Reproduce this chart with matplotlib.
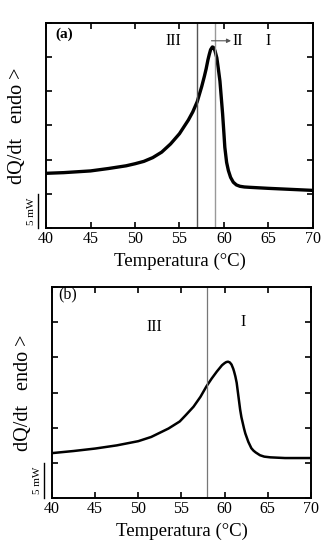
import matplotlib
matplotlib.use("Agg")
import matplotlib.pyplot as plt

# Panel (a) data: temperature (°C) vs heat flow (mW, offset)
temp_a = [40, 42, 45, 47, 49, 50, 51, 52, 53, 54, 55, 55.5, 56, 56.5, 57, 57.5,
          57.8, 58.0, 58.2, 58.35, 58.5, 58.7, 58.85, 59.0, 59.1, 59.2, 59.35,
          59.55, 59.7, 59.85, 60.0, 60.1, 60.3, 60.5, 60.75, 61.05, 61.4, 61.8,
          62.3, 62.9, 65, 67.5, 70]
dq_a = [8.0, 8.1, 8.35, 8.7, 9.1, 9.4, 9.75, 10.3, 11.1, 12.3, 13.8, 14.8, 15.8,
        17.0, 18.5, 20.7, 22.2, 23.3, 24.6, 25.4, 26.1, 26.5, 26.4, 25.9, 25.4,
        24.9, 23.5, 21.5, 19.1, 16.7, 13.8, 11.8, 9.6, 8.4, 7.4, 6.7, 6.3, 6.1,
        6.0, 5.95, 5.8, 5.65, 5.5]

# Panel (b) data
temp_b = [40, 42.5, 45, 47.5, 50, 51.5, 52.5, 53.5, 54.8, 55.5, 56.4, 57.2, 57.9,
          58.5, 59.1, 59.7, 60.0, 60.2, 60.4, 60.6, 60.8, 61.0, 61.1, 61.25, 61.4,
          61.6, 61.8, 61.95, 62.1, 62.25, 62.4, 62.75, 63.1, 63.35, 63.6, 64.1,
          64.6, 65.3, 67, 70]
dq_b = [6.4, 6.7, 7.05, 7.5, 8.1, 8.7, 9.3, 9.9, 10.9, 11.8, 13.0, 14.4, 15.9,
        17.0, 18.0, 18.9, 19.2, 19.35, 19.4, 19.3, 19.0, 18.4, 18.0, 17.3, 16.4,
        14.5, 12.6, 11.5, 10.7, 9.9, 9.2, 8.0, 7.1, 6.75, 6.5, 6.1, 5.9, 5.8,
        5.7, 5.7]

xticks = [40, 45, 50, 55, 60, 65, 70]
yticks = [0, 5, 10, 15, 20, 25, 30]
lines_a = [57, 59]
lines_b = [58]

plt.rcParams['font.family'] = ['Liberation Serif', 'DejaVu Serif']

fig = plt.figure(figsize=(3.29, 5.48), dpi=100)
ax_a = fig.add_axes([0.140, 0.584, 0.811, 0.374])
ax_b = fig.add_axes([0.158, 0.091, 0.787, 0.385])

def style(ax):
    ax.set_xlim(40, 70)
    ax.set_ylim(0, 30)
    ax.set_xticks(xticks)
    ax.set_xticklabels([str(t) for t in xticks], fontsize=11.5)
    ax.set_yticks(yticks)
    ax.set_yticklabels([])
    ax.tick_params(direction='in', top=True, right=True, length=4, width=1.2, pad=2)
    for s in ax.spines.values():
        s.set_linewidth(1.4)
    ax.set_xlabel('Temperatura (°C)', fontsize=13.5, labelpad=4)
    ax.set_ylabel('dQ/dt   endo >', fontsize=14.5, labelpad=12)
    # 5 mW scale bar
    ax.plot([-0.03, -0.03], [0, 5], transform=ax.get_yaxis_transform(),
            color='black', lw=1.0, clip_on=False)
    ax.text(-0.055, 2.5, '5 mW', transform=ax.get_yaxis_transform(),
            rotation=90, ha='center', va='center', fontsize=8)

style(ax_a)
ax_a.plot(temp_a, dq_a, color='black', lw=2.4, solid_joinstyle='round')
ax_a.axvline(lines_a[0], color='#555555', lw=1.0)
ax_a.axvline(lines_a[1], color='#999999', lw=1.0)
ax_a.text(41.0, 28.3, '(a)', fontsize=11, fontweight='bold', va='center')
ax_a.text(54.3, 27.3, 'III', fontsize=11.5, ha='center', va='center')
ax_a.annotate('', xy=(60.8, 27.4), xytext=(58.6, 27.4),
              arrowprops=dict(arrowstyle='-|>', color='#555555', lw=0.8,
                              mutation_scale=6, shrinkA=0, shrinkB=0))
ax_a.text(61.5, 27.3, 'II', fontsize=11.5, ha='center', va='center')
ax_a.text(65.0, 27.3, 'I', fontsize=11.5, ha='center', va='center')

style(ax_b)
ax_b.plot(temp_b, dq_b, color='black', lw=1.8, solid_joinstyle='round')
ax_b.axvline(lines_b[0], color='#777777', lw=0.9)
ax_b.text(40.7, 29.0, '(b)', fontsize=11.5, va='center')
ax_b.text(51.9, 24.4, 'III', fontsize=11.5, ha='center', va='center')
ax_b.text(62.1, 25.0, 'I', fontsize=11.5, ha='center', va='center')

fig.savefig('out.png', dpi=100)
